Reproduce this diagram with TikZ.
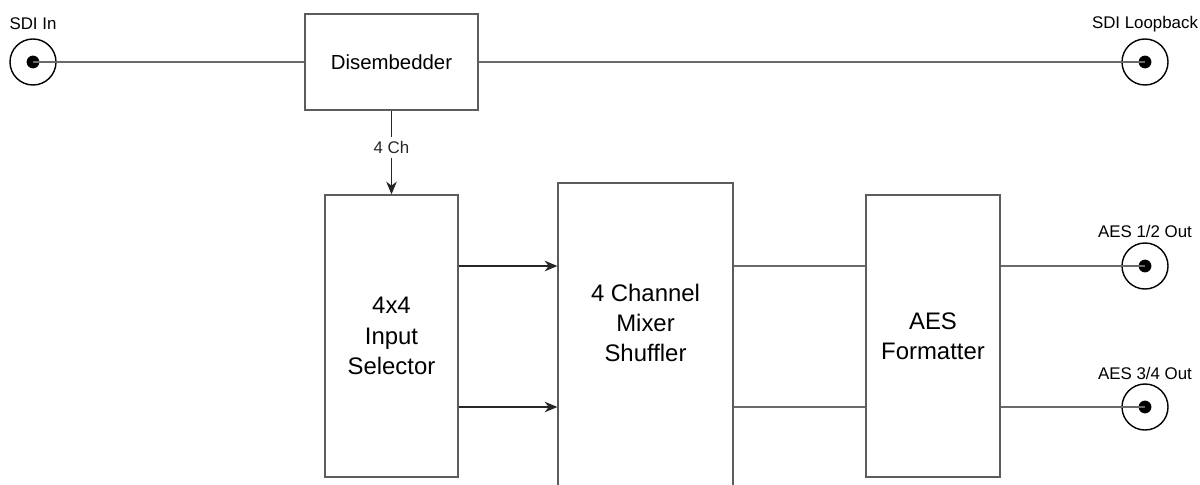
\documentclass[tikz,border=0pt]{standalone}
\usepackage{fontspec}
\setmainfont{Liberation Sans}
\usetikzlibrary{arrows.meta}
\definecolor{edge}{HTML}{5C5C5C}
\definecolor{wirec}{HTML}{6A6A6A}

\begin{document}
\begin{tikzpicture}[x=0.025cm,y=-0.025cm,
          box/.style={draw=edge,line width=0.9pt,fill=white,inner sep=0pt,align=center,
                      font=\fontsize{14.5}{17}\selectfont},
          bigbox/.style={box,font=\fontsize{17}{21.5}\selectfont},
          jack/.style={circle,draw=black,line width=1pt,minimum size=1.15cm,inner sep=0pt},
          tag/.style={font=\fontsize{12}{14}\selectfont,inner sep=1pt},
          link/.style={wirec,line width=0.8pt},
          feed/.style={black!85,line width=0.8pt,-{Stealth[length=9pt,width=7.5pt,inset=2.8pt]}}]
        \clip (0,0) rectangle (1200,485);
        % jacks
        \node[jack] (sdiin) at (33,62) {};
        \node[jack] (loop)  at (1145,62) {};
        \node[jack] (aes12) at (1145,266) {};
        \node[jack] (aes34) at (1145,407) {};
        \foreach \j in {sdiin,loop,aes12,aes34}
          \fill (\j.center) circle[radius=0.16cm];
        \node[tag] (sdiinlbl)  at (33,24)   {SDI In};
        \node[tag] (looplbl)   at (1145,24) {SDI Loopback};
        \node[tag] (aes12lbl)  at (1145,231) {AES 1/2 Out};
        \node[tag] (aes34lbl)  at (1145,373) {AES 3/4 Out};
        % blocks
        \node[box,minimum width=4.325cm,minimum height=2.4cm] (dis) at (391.5,62) {Disembedder};
        \node[bigbox,minimum width=3.325cm,minimum height=7.05cm] (sel) at (391.5,336) {4x4\\Input\\Selector};
        \node[bigbox,minimum width=4.375cm,minimum height=9.425cm] (mix) at (645.5,371.5) {};
        \node[bigbox,draw=none,fill=none] (mixtxt) at (645.5,323) {4 Channel\\Mixer\\Shuffler};
        \node[bigbox,minimum width=3.35cm,minimum height=7.05cm] (fmt) at (933,336) {AES\\Formatter};
        % signal paths
        \draw[link] (sdiin.center) -- (dis.west);
        \draw[link] (dis.east) -- (loop.center);
        \draw[feed] (dis) -- node[tag,fill=white,inner sep=3pt,pos=0.44] (chlbl) {4 Ch} (sel);
        \foreach \j in {aes12,aes34} {
          \draw[feed] (sel.east |- \j) -- (mix.west |- \j);
          \draw[link] (mix.east |- \j) -- (fmt.west |- \j);
          \draw[link] (fmt.east |- \j) -- (\j.center);
        }
      \end{tikzpicture}
\end{document}
